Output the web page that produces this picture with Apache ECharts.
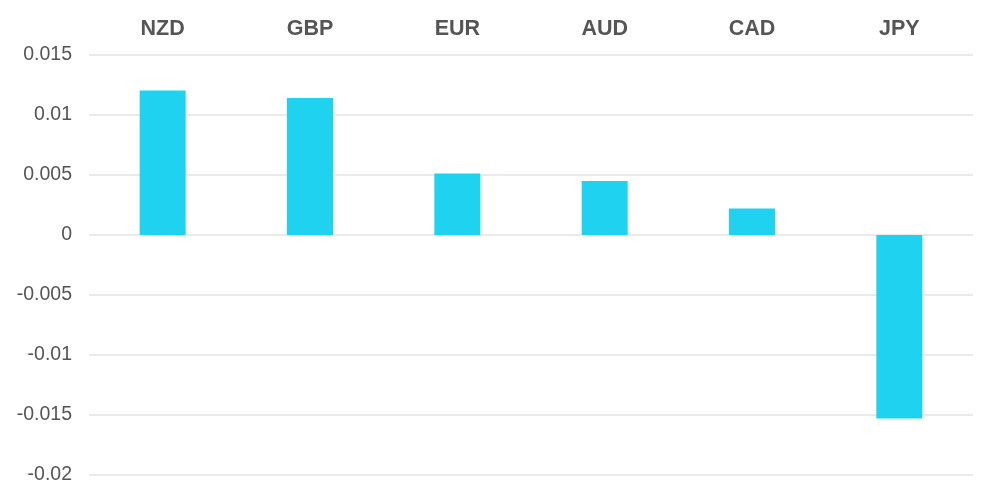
<!DOCTYPE html>
<html><head><meta charset="utf-8">
<script src="https://cdn.jsdelivr.net/npm/echarts@6/dist/echarts.min.js"></script>
<style>html,body{margin:0;padding:0;background:#fff}#c{width:1000px;height:502px}</style>
</head><body><div id="c"></div>
<script>
const categories = ["NZD", "GBP", "EUR", "AUD", "CAD", "JPY"];
const values = [0.01204, 0.01142, 0.00513, 0.0045, 0.0022, -0.0153];
const yTicks = { min: -0.02, max: 0.015, interval: 0.005 };

const chart = echarts.init(document.getElementById('c'));
chart.setOption({
  animation: false,
  grid: { left: 89, right: 27, top: 55, bottom: 27 },
  xAxis: {
    type: 'category', position: 'top', data: categories,
    axisLine: { show: false }, axisTick: { show: false },
    axisLabel: { color: '#555', fontSize: 21.5, fontWeight: 'bold', margin: 15, fontFamily: 'Liberation Sans, Arial, sans-serif' }
  },
  yAxis: {
    type: 'value', min: yTicks.min, max: yTicks.max, interval: yTicks.interval,
    axisLine: { show: false }, axisTick: { show: false },
    splitLine: { lineStyle: { color: '#e3e3e3', width: 1.5 } },
    axisLabel: { color: '#555', fontSize: 19.5, margin: 17, padding: [3, 0, 0, 0], fontFamily: 'Liberation Sans, Arial, sans-serif',
      formatter: v => String(parseFloat(v.toFixed(4))) }
  },
  series: [{
    type: 'bar', data: values, barWidth: 46,
    itemStyle: { color: '#1fd3f0' }
  }]
});
</script></body></html>
